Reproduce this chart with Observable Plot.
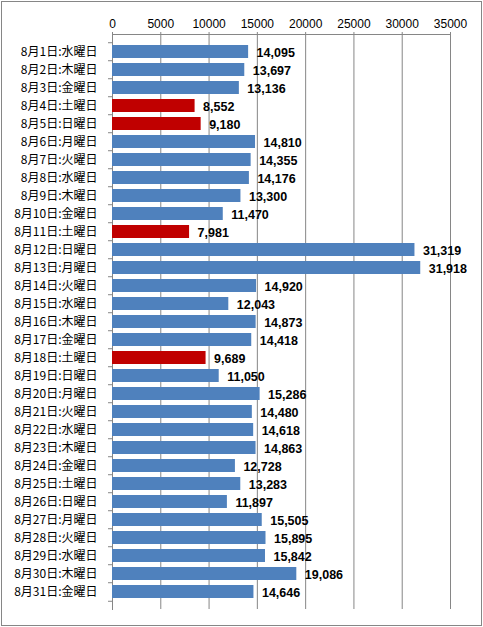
<!DOCTYPE html>
<html><head><meta charset="utf-8">
<script src="https://cdn.jsdelivr.net/npm/d3@7"></script>
<script src="https://cdn.jsdelivr.net/npm/@observablehq/plot@0.6"></script>
<style>
body{margin:0;background:#fff;}
#chart svg{display:block;outline:1px solid #868686;outline-offset:-2px;}
</style>
</head><body><div id="chart"></div>
<script>
const days = ["8月1日:水曜日","8月2日:木曜日","8月3日:金曜日","8月4日:土曜日","8月5日:日曜日","8月6日:月曜日","8月7日:火曜日","8月8日:水曜日","8月9日:木曜日","8月10日:金曜日","8月11日:土曜日","8月12日:日曜日","8月13日:月曜日","8月14日:火曜日","8月15日:水曜日","8月16日:木曜日","8月17日:金曜日","8月18日:土曜日","8月19日:日曜日","8月20日:月曜日","8月21日:火曜日","8月22日:水曜日","8月23日:木曜日","8月24日:金曜日","8月25日:土曜日","8月26日:日曜日","8月27日:月曜日","8月28日:火曜日","8月29日:水曜日","8月30日:木曜日","8月31日:金曜日"];
const values = [14095,13697,13136,8552,9180,14810,14355,14176,13300,11470,7981,31319,31918,14920,12043,14873,14418,9689,11050,15286,14480,14618,14863,12728,13283,11897,15505,15895,15842,19086,14646];
const highlighted = ["8月4日:土曜日","8月5日:日曜日","8月11日:土曜日","8月18日:土曜日"];
const xTicks = [0,5000,10000,15000,20000,25000,30000,35000];

const data = days.map((d,i)=>({day:d, value:values[i], hi: highlighted.includes(d)}));
const W=483,H=627,mT=34,mB=18,mL=112,mR=33;
const step=(H-mT-mB)/days.length;

const chart = Plot.plot({
  width:W,height:H,marginTop:mT,marginBottom:mB,marginLeft:mL,marginRight:mR,
  style:{background:"white",fontFamily:"'Liberation Sans',sans-serif",color:"#000"},
  x:{domain:[0,35000],axis:null},
  y:{domain:days,paddingInner:0.28,paddingOuter:0.14,axis:null},
  marks:[
    Plot.gridX({ticks:xTicks,stroke:"#868686",strokeOpacity:1}),
    Plot.axisX({anchor:"top",ticks:xTicks,tickFormat:d=>String(d),tickSize:3,tickPadding:4,fontSize:12,stroke:"#868686",fill:"#000",label:null}),
    Plot.frame({anchor:"top",stroke:"#868686"}),
    Plot.frame({anchor:"left",stroke:"#868686"}),
    Plot.axisY({tickSize:4,text:null,dy:-step/2,stroke:"#868686",strokeOpacity:1,label:null}),
    Plot.axisY({ticks:days.slice(-1),tickSize:4,text:null,dy:step/2,stroke:"#868686",strokeOpacity:1,label:null}),
    Plot.barX(data.filter(d=>!d.hi),{x:"value",y:"day",fill:"#4F81BD"}),
    Plot.barX(data.filter(d=>d.hi),{x:"value",y:"day",fill:"#C00000"}),
    Plot.text(data,{x:"value",y:"day",text:d=>d3.format(",")(d.value),textAnchor:"start",dx:8,dy:1,fontWeight:"bold",fontSize:12.5,fill:"#000"}),
    Plot.axisY({tickSize:0,tickPadding:15,fontSize:12,fontFamily:"'Noto Sans CJK JP',sans-serif",fill:"#000",label:null})
  ]
});
document.getElementById("chart").append(chart);
</script>
</body></html>
